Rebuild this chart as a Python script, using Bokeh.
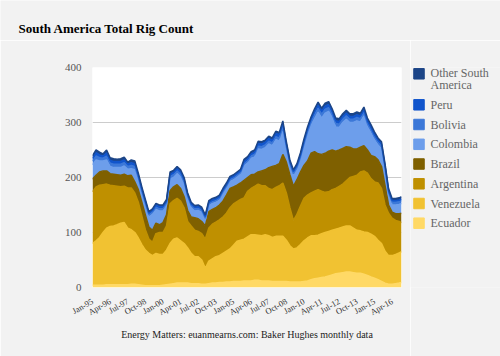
from bokeh.plotting import figure
from bokeh.models import ColumnDataSource, FixedTicker, Range1d
from bokeh.layouts import column, row
from bokeh.embed import file_html
from bokeh.resources import INLINE
from bokeh.core.properties import value

BG = "#f2f2f2"
SERIF = "Liberation Serif"

# ---- data (quarterly readings, Jan-95 .. Oct-16, plus Dec-16) ----
sample_months = [f"{1995 + m // 12}-{m % 12 + 1:02d}" for m in range(0, 262, 3)] + ["2016-12"]

ecuador = [4, 4, 4, 4, 5, 5, 5, 5, 5, 5, 5, 6, 6, 5, 4, 3, 3, 3, 3, 3,
           4, 5, 6, 7, 8, 8, 8, 8, 7, 7, 7, 6, 6, 7, 8, 8, 9, 9, 10, 10,
           11, 11, 11, 12, 12, 12, 13, 13, 12, 12, 12, 11, 11, 11, 11, 11, 10, 10, 10, 10,
           11, 12, 14, 16, 17, 18, 19, 21, 23, 25, 26, 27, 28, 28, 27, 26, 26, 24, 22, 19,
           17, 14, 11, 8, 6, 6, 7, 8, 9]
venezuela = [76, 81, 87, 96, 103, 106, 107, 109, 112, 113, 103, 99, 94, 85, 74, 65, 59, 55, 59, 57,
             56, 63, 74, 81, 82, 77, 72, 64, 55, 49, 49, 44, 29, 41, 44, 48, 49, 53, 56, 60,
             66, 73, 75, 76, 80, 84, 83, 82, 82, 84, 82, 80, 82, 82, 82, 75, 66, 60, 62, 68,
             74, 78, 80, 78, 78, 80, 81, 81, 81, 81, 82, 83, 84, 84, 81, 78, 77, 77, 78, 78,
             76, 72, 69, 58, 52, 52, 53, 55, 56]
argentina = [94, 98, 95, 87, 80, 75, 73, 70, 66, 66, 73, 76, 72, 65, 52, 37, 26, 24, 36, 40,
             40, 44, 72, 70, 72, 72, 65, 48, 50, 48, 46, 48, 53, 60, 63, 63, 65, 66, 69, 75,
             75, 72, 74, 75, 83, 84, 88, 93, 91, 89, 86, 87, 89, 92, 97, 86, 69, 52, 61, 70,
             77, 78, 78, 81, 83, 77, 73, 72, 74, 74, 76, 78, 82, 88, 94, 100, 107, 111, 108, 101,
             99, 104, 100, 84, 77, 68, 62, 57, 53]
brazil = [23, 21, 24, 25, 24, 21, 21, 21, 21, 22, 22, 23, 20, 23, 25, 27, 22, 22, 19, 14,
          18, 20, 24, 25, 25, 23, 20, 20, 16, 23, 23, 22, 24, 30, 27, 26, 27, 29, 33, 35,
          31, 30, 30, 32, 25, 25, 22, 22, 27, 29, 38, 42, 40, 40, 52, 56, 60, 62, 63, 62,
          60, 62, 72, 72, 65, 67, 71, 74, 72, 68, 66, 65, 62, 55, 50, 48, 45, 46, 42, 42,
          46, 42, 40, 35, 15, 11, 12, 14, 17]
colombia = [26, 28, 20, 18, 20, 13, 12, 13, 14, 15, 12, 12, 22, 16, 15, 16, 18, 29, 25, 25,
            21, 19, 21, 17, 20, 21, 22, 22, 17, 12, 15, 17, 11, 11, 11, 10, 9, 14, 13, 13,
            13, 15, 16, 26, 26, 30, 31, 42, 39, 40, 43, 38, 47, 41, 44, 23, 16, 19, 18, 22,
            34, 47, 51, 60, 76, 66, 73, 72, 59, 44, 41, 47, 50, 45, 48, 51, 46, 54, 42, 41,
            31, 27, 32, 28, 18, 13, 16, 17, 18]
bolivia = [7, 7, 6, 5, 7, 6, 6, 6, 6, 6, 5, 6, 6, 6, 5, 5, 4, 4, 4, 4,
           4, 3, 5, 5, 5, 5, 5, 4, 4, 4, 4, 3, 3, 3, 3, 3, 3, 3, 3, 3,
           3, 3, 3, 4, 4, 4, 5, 5, 5, 5, 5, 5, 5, 6, 6, 5, 4, 4, 4, 5,
           5, 6, 6, 7, 7, 7, 7, 7, 6, 6, 6, 6, 6, 6, 6, 6, 6, 6, 6, 6,
           5, 5, 5, 5, 5, 5, 5, 5, 5]
peru = [5, 6, 5, 4, 6, 5, 5, 5, 5, 5, 4, 5, 5, 4, 4, 4, 3, 3, 4, 4,
        4, 3, 4, 4, 4, 4, 4, 3, 3, 3, 3, 3, 3, 3, 3, 3, 3, 3, 3, 3,
        3, 3, 3, 4, 4, 4, 4, 5, 5, 5, 5, 5, 6, 6, 6, 5, 4, 4, 4, 4,
        5, 5, 5, 6, 6, 6, 6, 6, 5, 5, 5, 5, 5, 5, 5, 5, 5, 5, 5, 4,
        4, 4, 4, 3, 3, 3, 3, 3, 3]
other = [5, 5, 5, 4, 5, 5, 5, 4, 5, 5, 4, 5, 5, 4, 4, 3, 3, 3, 3, 3,
         3, 3, 4, 4, 4, 4, 4, 3, 3, 3, 3, 3, 3, 3, 3, 3, 3, 3, 3, 3,
         3, 3, 3, 4, 4, 4, 4, 4, 4, 4, 4, 4, 4, 4, 5, 4, 3, 3, 3, 4,
         4, 4, 4, 5, 5, 5, 5, 5, 5, 5, 5, 5, 5, 5, 5, 5, 5, 5, 5, 5,
         5, 4, 4, 4, 4, 4, 4, 4, 4]

series_names = ["Ecuador", "Venezuela", "Argentina", "Brazil",
                "Colombia", "Bolivia", "Peru", "Other South America"]
series_values = [ecuador, venezuela, argentina, brazil, colombia, bolivia, peru, other]
colors = ["#ffd966", "#f1c232", "#bf9000", "#7f6000",
          "#6d9eeb", "#3c78d8", "#1155cc", "#1c4587"]

tick_labels = ["Jan-95", "Apr-96", "Jul-97", "Oct-98", "Jan-00", "Apr-01", "Jul-02", "Oct-03",
               "Jan-05", "Apr-06", "Jul-07", "Oct-08", "Jan-10", "Apr-11", "Jul-12", "Oct-13",
               "Jan-15", "Apr-16"]
y_ticks = [0, 100, 200, 300, 400]

MONTHS = ["Jan", "Feb", "Mar", "Apr", "May", "Jun", "Jul", "Aug", "Sep", "Oct", "Nov", "Dec"]


def idx_from_iso(s):
    y, m = s.split("-")
    return (int(y) - 1995) * 12 + int(m) - 1


def idx_from_label(s):
    mon, yy = s.split("-")
    yy = int(yy)
    year = 2000 + yy if yy < 50 else 1900 + yy
    return (year - 1995) * 12 + MONTHS.index(mon)


x = [idx_from_iso(s) for s in sample_months]
n = min(len(x), *[len(v) for v in series_values])
data = {"x": x[:n]}
for name, vals in zip(series_names, series_values):
    data[name] = vals[:n]
source = ColumnDataSource(data)

tick_pos = [idx_from_label(t) for t in tick_labels]

# ---- title strip ----
top = figure(width=500, height=40, x_range=Range1d(0, 500), y_range=Range1d(40, 0),
             output_backend="svg", toolbar_location=None, min_border=0,
             x_axis_location=None, y_axis_location=None,
             background_fill_color=BG, border_fill_color=BG, outline_line_color=None)
top.grid.visible = False
top.text(x=[18], y=[28], text=["South America Total Rig Count"],
         text_font=value(SERIF), text_font_style="bold", text_font_size="13px",
         text_color="#000000", text_baseline="alphabetic")

# ---- main chart ----
main = figure(width=410, height=316, x_range=Range1d(0, x[n - 1]), y_range=Range1d(0, 400),
              output_backend="svg", toolbar_location=None,
              min_border_left=92, min_border_right=9, min_border_top=27, min_border_bottom=69,
              background_fill_color="white", border_fill_color=BG, outline_line_color=None)
main.varea_stack(stackers=series_names, x="x", color=colors, source=source)
main.vline_stack(stackers=series_names, x="x", color=colors, line_width=1.5, source=source)

main.yaxis.ticker = FixedTicker(ticks=y_ticks)
main.yaxis.axis_line_color = None
main.yaxis.major_tick_line_color = None
main.yaxis.minor_tick_line_color = None
main.yaxis.major_label_text_font = SERIF
main.yaxis.major_label_text_font_size = "11px"
main.yaxis.major_label_text_color = "#555555"
main.yaxis.major_label_standoff = 5
main.ygrid.ticker = FixedTicker(ticks=y_ticks)
main.ygrid.grid_line_color = "#cccccc"
main.xgrid.grid_line_color = None

main.xaxis.ticker = FixedTicker(ticks=tick_pos)
main.xaxis.major_label_overrides = {p: t for p, t in zip(tick_pos, tick_labels)}
main.xaxis.major_label_orientation = 0.52
main.xaxis.axis_line_color = None
main.xaxis.major_tick_line_color = None
main.xaxis.minor_tick_line_color = None
main.xaxis.major_label_text_font = SERIF
main.xaxis.major_label_text_font_size = "8.5px"
main.xaxis.major_label_text_color = "#333333"
main.xaxis.major_label_standoff = 7
main.xaxis.axis_label = "Energy Matters: euanmearns.com: Baker Hughes monthly data"
main.xaxis.axis_label_text_font = SERIF
main.xaxis.axis_label_text_font_style = "normal"
main.xaxis.axis_label_text_font_size = "10px"
main.xaxis.axis_label_text_color = "#222222"
main.xaxis.axis_label_standoff = 5

# ---- legend strip (frame aligned with the main frame; data units = page pixels) ----
leg = figure(width=90, height=316, x_range=Range1d(410, 500), y_range=Range1d(287, 67),
             output_backend="svg", toolbar_location=None,
             min_border_left=0, min_border_right=0, min_border_top=27, min_border_bottom=69,
             x_axis_location=None, y_axis_location=None,
             background_fill_color=BG, border_fill_color=BG, outline_line_color=None)
leg.grid.visible = False
legend_order = list(range(len(series_names) - 1, -1, -1))
sq_y = [73.3, 104.3, 124.0, 143.8, 163.5, 183.3, 203.0, 222.7]
leg.rect(x=[418.5] * len(legend_order), y=sq_y, width=10.5, height=10.5,
         color=[colors[i] for i in legend_order])
txt_x, txt_y, txt = [], [], []
for k, i in enumerate(legend_order):
    name = series_names[i]
    if name == "Other South America":
        txt += ["Other South", "America"]
        txt_y += [sq_y[k] - 0.8, sq_y[k] + 11.2]
        txt_x += [430, 430]
    else:
        txt.append(name)
        txt_y.append(sq_y[k])
        txt_x.append(430)
leg.text(x=txt_x, y=txt_y, text=txt, text_font=value(SERIF), text_font_size="12px",
         text_color="#666666", text_baseline="middle")

layout = column(top, row(main, leg, spacing=0), spacing=0)
open("out.html", "w").write(file_html(layout, INLINE))
